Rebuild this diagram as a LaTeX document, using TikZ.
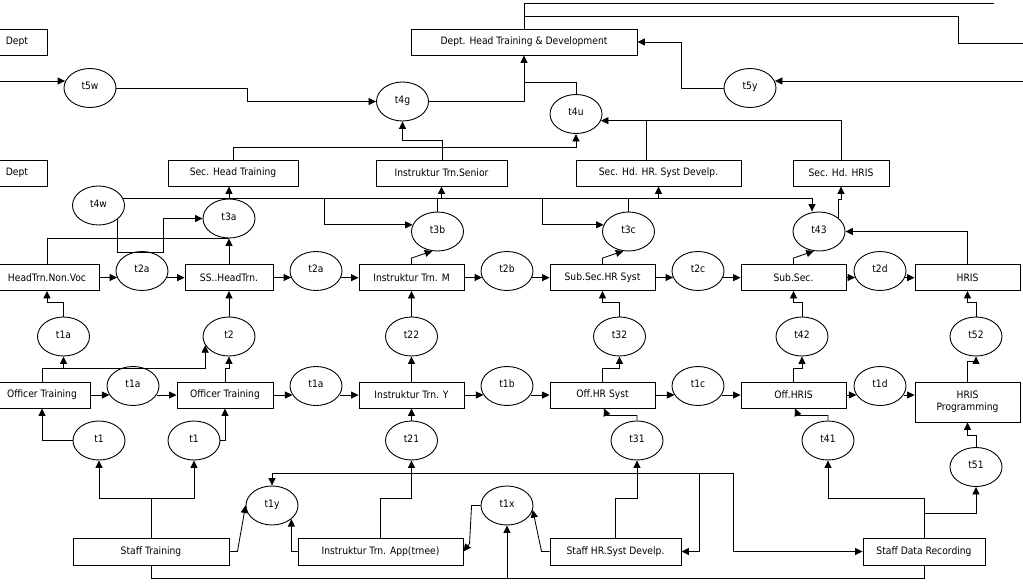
\documentclass[tikz,border=0pt]{standalone}
\usepackage{fontspec}
\setmainfont{DejaVu Sans}[FakeStretch=0.9]
\usetikzlibrary{arrows.meta,shapes.geometric}
\begin{document}
\begin{tikzpicture}[x=1pt,y=-1pt,
  lbl/.style={font=\fontsize{10.2}{12.3}\selectfont},
  box/.style={lbl,draw,rectangle,inner sep=0pt,minimum height=26pt,line width=0.9pt,align=center},
  trans/.style={lbl,draw,ellipse,inner sep=0pt,minimum width=52pt,minimum height=39pt,line width=0.9pt,text height=7.5pt,text depth=4pt},
  ln/.style={line width=0.85pt},
  arr/.style={ln,-{Triangle[length=7.5pt,width=7pt]}}]
\useasboundingbox (0,0) rectangle (1023,584);

% ---- boxes ----
\node[box,minimum width=60pt]  (deptA) at (17,42) {Dept};
\node[box,minimum width=226pt] (dhtd)  at (524,42) {Dept. Head Training \& Development};
\node[box,minimum width=60pt]  (deptB) at (17,173) {Dept};
\node[box,minimum width=130pt] (sht)   at (233,173) {Sec. Head Training};
\node[box,minimum width=131pt] (its)   at (441.5,173) {Instruktur Trn.Senior};
\node[box,minimum width=165pt] (shhr)  at (658.5,173) {Sec. Hd. HR. Syst Develp.};
\node[box,minimum width=96pt]  (shhris) at (841,173) {Sec. Hd. HRIS};

\node[box,minimum width=104pt] (htnv) at (47,277.5) {HeadTrn.Non.Voc};
\node[box,minimum width=88pt]  (ssht) at (229,277.5) {SS..HeadTrn.};
\node[box,minimum width=105pt] (itm)  at (411.5,277.5) {Instruktur Trn. M};
\node[box,minimum width=105pt] (sshr) at (602.5,277.5) {Sub.Sec.HR Syst};
\node[box,minimum width=105pt] (ss)   at (793.5,277.5) {Sub.Sec.};
\node[box,minimum width=105pt] (hris) at (967.5,277.5) {HRIS};

\node[box,minimum width=96pt]  (ot1)   at (42,395) {Officer Training};
\node[box,minimum width=96pt]  (ot2)   at (225,395) {Officer Training};
\node[box,minimum width=105pt] (ity)   at (411.5,395) {Instruktur Trn. Y};
\node[box,minimum width=105pt] (ohr)   at (602.5,395) {Off.HR Syst};
\node[box,minimum width=105pt] (ohris) at (793.5,395) {Off.HRIS};
\node[box,minimum width=105pt,minimum height=40pt] (hrisp) at (967.5,402) {HRIS\\Programming};

\node[box,minimum width=156pt,minimum height=27pt] (st)   at (151,551.5) {Staff Training};
\node[box,minimum width=165pt,minimum height=27pt] (ita)  at (380.5,551.5) {Instruktur Trn. App(trnee)};
\node[box,minimum width=131pt,minimum height=27pt] (shrd) at (615.5,551.5) {Staff HR.Syst Develp.};
\node[box,minimum width=122pt,minimum height=27pt] (sdr)  at (924,551.5) {Staff Data Recording};

% ---- transitions ----
\node[trans] (t5w) at (90,88) {t5w};
\node[trans] (t4g) at (402.5,101.5) {t4g};
\node[trans] (t4u) at (576,114) {t4u};
\node[trans] (t5y) at (750,88) {t5y};

\node[trans] (t4w) at (98.5,205.5) {t4w};
\node[trans] (t3a) at (229,218.5) {t3a};
\node[trans] (t3b) at (437.5,231.5) {t3b};
\node[trans] (t3c) at (628.5,231.5) {t3c};
\node[trans] (t43) at (819,231.5) {t43};

\node[trans] (t2aA) at (142,271) {t2a};
\node[trans] (t2aB) at (316,271) {t2a};
\node[trans] (t2b)  at (507,271) {t2b};
\node[trans] (t2c)  at (698,271) {t2c};
\node[trans] (t2d)  at (880,271) {t2d};

\node[trans] (t1aU) at (63.5,336.5) {t1a};
\node[trans] (t2)   at (229,336.5) {t2};
\node[trans] (t22)  at (411.5,336.5) {t22};
\node[trans] (t32)  at (619.5,336.5) {t32};
\node[trans] (t42)  at (802,336.5) {t42};
\node[trans] (t52)  at (976,336.5) {t52};

\node[trans] (t1aA) at (133,386) {t1a};
\node[trans] (t1aB) at (316,386) {t1a};
\node[trans] (t1b)  at (507,386) {t1b};
\node[trans] (t1c)  at (698,386) {t1c};
\node[trans] (t1d)  at (880,386) {t1d};

\node[trans] (t1A) at (99,440.5) {t1};
\node[trans] (t1B) at (194,440.5) {t1};
\node[trans] (t21) at (411.5,440.5) {t21};
\node[trans] (t31) at (637,440.5) {t31};
\node[trans] (t41) at (828,440.5) {t41};
\node[trans] (t51) at (976,467) {t51};

\node[trans] (t1y) at (272,505.5) {t1y};
\node[trans] (t1x) at (507,505.5) {t1x};

% ---- free ends and junctions ----
\coordinate (outA) at (994,3);
\coordinate (outB) at (1030,43);
\coordinate (jB) at (524,16);
\coordinate (inW) at (-5,81);
\coordinate (inE) at (1030,81);
\coordinate (jU) at (524,82);
\coordinate (jHR) at (646,121);
\coordinate (jb3) at (324,199);
\coordinate (jc3) at (542,199);
\coordinate (j1a) at (63.5,369);
\coordinate (jbot) at (507,577.5);
\coordinate (jtop) at (733,473);
\coordinate (jhr2) at (699,473);
\coordinate (jsd) at (924,513);

% ---- top ----
\draw[ln] (dhtd.north) |- (outA);
\draw[ln] (jB) -- (958,16) |- (outB);
\draw[arr] (inW) -- (inW -| t5w.165);
\draw[arr] (inE) -- (inE -| t5y.15);
\draw[arr] (t5w.east) -| (247,101.5) -- (t4g.west);
\draw[arr] (t4g.east) -| (dhtd.south);
\draw[ln] (t4u.north) |- (jU);
\draw[arr] (t5y.west) -- (681,88) |- (dhtd.east);
\draw[arr] (shhris.north) |- (t4u.-15);
\draw[ln] ([xshift=-12.5pt]shhr.north) -- (jHR);
\draw[arr] (sht.north) -- (233,147) -| (t4u.south);
\draw[arr] ([xshift=0.5pt]its.north) -- (442,140.5) -| (t4g.south);

% ---- t4w / t3 level ----
\draw[arr] (t4w.15) -| ([xshift=-7pt]t43.north);
\draw[arr] (jb3) |- (t3b.165);
\draw[arr] (jc3) |- (t3c.165);
\draw[arr] (t3c.north) -- ++(0,-13) -| (shhr.south);
\draw[arr] (t3b.north) -- ++(0,-13) -| (its.south);
\draw[arr] (t3a.north) -- (t3a.north |- sht.south);
\draw[arr] (t43.35) -- ++(0,-19) -| (shhris.south);
\draw[arr] (hris.north) |- (t43.east);
\draw[arr] (t4w.-36) |- (163,252) |- (t3a.west);
\draw[ln] (htnv.north) |- (t3a.south);
\draw[arr] (ssht.north) -- (t3a.south);
\draw[arr] (itm.north) -- ++(0,-6) -- (t3b.255);
\draw[arr] (sshr.north) -- ++(0,-6) -- (t3c.255);
\draw[arr] (ss.north) -- ++(0,-6) -- (t43.255);

% ---- row 2 horizontals ----
\draw[arr] (htnv.east) -- (htnv.east -| t2aA.195);
\draw[arr] (t2aA.-15) -- (t2aA.-15 -| ssht.west);
\draw[arr] (ssht.east) -- (ssht.east -| t2aB.195);
\draw[arr] (t2aB.-15) -- (t2aB.-15 -| itm.west);
\draw[arr] (itm.east) -- (itm.east -| t2b.195);
\draw[arr] (t2b.-15) -- (t2b.-15 -| sshr.west);
\draw[arr] (sshr.east) -- (sshr.east -| t2c.195);
\draw[arr] (t2c.-15) -- (t2c.-15 -| ss.west);
\draw[arr] (ss.east) -- (ss.east -| t2d.195);
\draw[arr] (t2d.-15) -- (t2d.-15 -| hris.west);

% ---- row 2 <- ellipses ----
\draw[arr] (t1aU.north) -- ++(0,-14) -| (htnv.south);
\draw[arr] (t2.north) -- (ssht.south);
\draw[arr] (t22.north) -- (itm.south);
\draw[arr] (t32.north) -- ++(0,-14) -| (sshr.south);
\draw[arr] (t42.north) -- ++(0,-14) -| (ss.south);
\draw[arr] (t52.north) -- ++(0,-14) -| (hris.south);

% ---- row 3 -> ellipses ----
\draw[arr] (ot1.north) -- ++(0,-13) -| (t2.200);
\draw[arr] (j1a) -- (t1aU.south);
\draw[arr] (ot2.north) -- ++(0,-13) -| (t2.south);
\draw[arr] (ity.north) -- (t22.south);
\draw[arr] (ohr.north) -- ++(0,-13) -| (t32.south);
\draw[arr] (ohris.north) -- ++(0,-13) -| (t42.south);
\draw[arr] (hrisp.north) -- ++(0,-20) -| (t52.south);

% ---- row 3 horizontals ----
\draw[arr] (ot1.east) -- (ot1.east -| t1aA.201);
\draw[arr] (t1aA.-21) -- (t1aA.-21 -| ot2.west);
\draw[arr] (ot2.east) -- (ot2.east -| t1aB.201);
\draw[arr] (t1aB.-21) -- (t1aB.-21 -| ity.west);
\draw[arr] (ity.east) -- (ity.east -| t1b.201);
\draw[arr] (t1b.-21) -- (t1b.-21 -| ohr.west);
\draw[arr] (ohr.east) -- (ohr.east -| t1c.201);
\draw[arr] (t1c.-21) -- (t1c.-21 -| ohris.west);
\draw[arr] (ohris.east) -- (ohris.east -| t1d.201);
\draw[arr] (t1d.-21) -- (t1d.-21 -| hrisp.west);

% ---- row 3 <- ellipses ----
\draw[arr] (t1A.west) -| (ot1.south);
\draw[arr] (t1B.east) -| (ot2.south);
\draw[arr] (t21.north) -- (ity.south);
\draw[arr] (t31.north) |- ([xshift=4.5pt,yshift=-7pt]ohr.south) -- ([xshift=1.5pt]ohr.south);
\draw[arr] (t41.north) |- ([xshift=4.5pt,yshift=-7pt]ohris.south) -- ([xshift=1.5pt]ohris.south);
\draw[arr] (t51.north) -- ++(0,-12) -| (hrisp.south);

% ---- bottom ----
\draw[arr] (st.north) -- ++(0,-39) -| (t1A.south);
\draw[arr] (st.north) -- ++(0,-39) -| (t1B.south);
\draw[arr] (st.east) -- ++(8,0) -- (t1y.west);
\draw[ln] (st.south) -- ++(0,12.5) -| (sdr.south);
\draw[arr] (jbot) -- (t1x.south);
\draw[arr] (ita.north) -- ++(0,-39) -| (t21.south);
\draw[arr] (ita.west) -| (t1y.-35);
\draw[arr] (t1x.west) -- ++(-9,0) -- ++(-2,38) -- (ita.east);
\draw[arr] (shrd.north) -- ++(0,-39) -| (t31.south);
\draw[arr] (shrd.west) -- ++(-8,0) -- (t1x.-10);
\draw[arr] (jtop) -| (t1y.north);
\draw[arr] (jtop) |- (sdr.west);
\draw[arr] (jhr2) |- (shrd.east);
\draw[arr] (sdr.north) -- ++(0,-39) -| (t41.south);
\draw[arr] (jsd) -| (t51.south);
\end{tikzpicture}
\end{document}
